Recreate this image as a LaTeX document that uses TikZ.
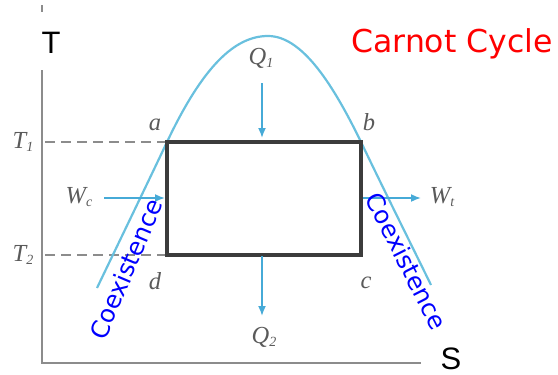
\documentclass[tikz,border=0pt]{standalone}
\usepackage{fontspec}
\setmainfont{Liberation Serif}
\newfontfamily\dejavu{DejaVu Sans}
\newfontfamily\arialf{Liberation Sans}
\usetikzlibrary{arrows.meta}
\definecolor{curveblue}{RGB}{105,192,222}
\definecolor{arrblue}{RGB}{70,170,215}
\definecolor{rectgray}{RGB}{60,60,60}
\definecolor{axgray}{RGB}{140,140,140}
\definecolor{lblgray}{RGB}{90,90,90}
\newcommand{\lowsub}[1]{\raisebox{-3.5pt}{\fontsize{14}{14}\selectfont #1}}
\tikzset{
  axisline/.style={draw=axgray,line width=2.6pt},
  dashline/.style={draw=axgray,line width=2.2pt,dash pattern=on 10pt off 6pt},
  cycleline/.style={draw=rectgray,line width=3.2pt},
  satcurve/.style={draw=curveblue,line width=2.2pt},
  heatarrow/.style={draw=arrblue,line width=1.7pt,-{Latex[length=10pt,width=8pt]}},
  mathlbl/.style={text=lblgray,font=\fontsize{24.5}{24.5}\selectfont\itshape,inner sep=0pt},
  coexlbl/.style={text=blue,font=\dejavu\fontsize{24.5}{24.5}\selectfont,inner sep=0pt},
  axlbl/.style={text=black,font=\arialf\fontsize{31}{31}\selectfont,inner sep=0pt}
}
\begin{document}
\begin{tikzpicture}[x=1pt,y=-1pt]
\useasboundingbox (0,0) rectangle (558,375);
% axes
\coordinate (ytop) at (42,5);
\coordinate (ygap1) at (42,12);
\coordinate (ygap2) at (42,70);
\coordinate (origin) at (42,363);
\coordinate (xend) at (421,363);
\draw[axisline] (ytop) -- (ygap1);
\draw[axisline] (ygap2) -- (origin) -- (xend);
\node[axlbl] (Tlab) at (51,43) {T};
\node[axlbl] (Slab) at (451,359) {S};
% cycle corners
\coordinate (a) at (167,142);
\coordinate (b) at (361,142);
\coordinate (c) at (361,255);
\coordinate (d) at (167,255);
\coordinate (t1) at (45,142);
\coordinate (t2) at (45,255);
\coordinate (cl) at (97,288);
\coordinate (top) at (268,36);
\coordinate (cr) at (431,285);
\draw[dashline] (t1) -- (a);
\draw[dashline] (t2) -- (d);
% saturation curve
\draw[satcurve] (cl) .. controls (120,240) and (150,178) .. (a)
  .. controls (203,66) and (235,36) .. (top)
  .. controls (300,36) and (330,78) .. (b)
  .. controls (384,190) and (408,238) .. (cr);
\draw[cycleline] (a) -- (b) -- (c) -- (d) -- cycle;
% labels
\node[mathlbl] (T1) at (23,142) {T\lowsub{1}};
\node[mathlbl] (T2) at (23,255) {T\lowsub{2}};
\node[mathlbl] (alab) at (155,125) {a};
\node[mathlbl] (blab) at (369,122) {b};
\node[mathlbl] (clab) at (366,283) {c};
\node[mathlbl] (dlab) at (155,281) {d};
\node[mathlbl] (Q1) at (261,58) {Q\lowsub{1}};
\node[mathlbl] (Q2) at (264,337) {Q\lowsub{2}};
\node[mathlbl] (Wc) at (79,197) {W\lowsub{c}};
\node[mathlbl] (Wt) at (442,197) {W\lowsub{t}};
% heat and work arrows
\coordinate (q1s) at (262,83);
\coordinate (q1e) at (262,138);
\coordinate (q2s) at (262,256);
\coordinate (q2e) at (262,316);
\coordinate (wcs) at (104,198);
\coordinate (wce) at (165,198);
\coordinate (wts) at (363,198);
\coordinate (wte) at (421,198);
\draw[heatarrow] (q1s) -- (q1e);
\draw[heatarrow] (q2s) -- (q2e);
\draw[heatarrow] (wcs) -- (wce);
\draw[heatarrow] (wts) -- (wte);
% titles
\node[text=red,font=\dejavu\fontsize{31.5}{31.5}\selectfont,inner sep=0pt] (title) at (452,44) {Carnot Cycle};
\node[coexlbl,rotate=67] (coexL) at (126,269) {Coexistence};
\node[coexlbl,rotate=-63] (coexR) at (407,261) {Coexistence};
\end{tikzpicture}
\end{document}
